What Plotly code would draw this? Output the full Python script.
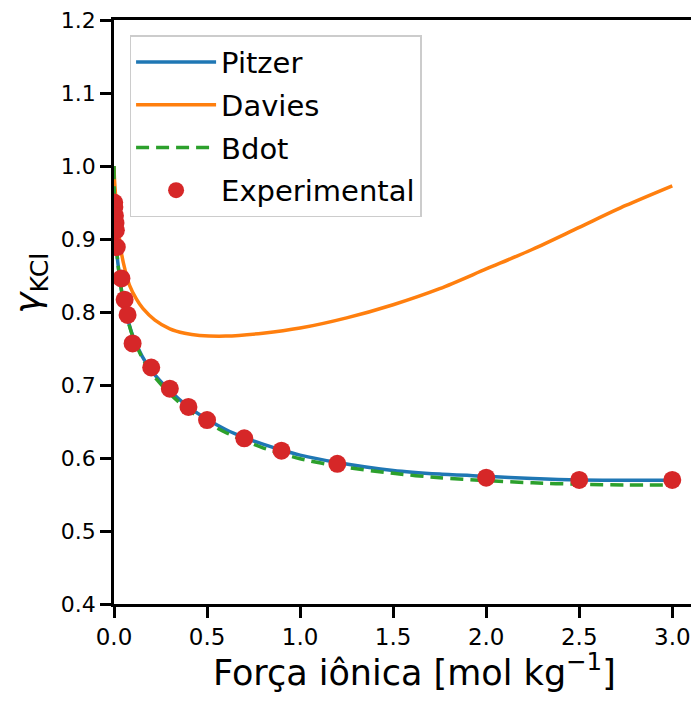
import plotly.graph_objects as go

# ---------------- data ----------------
pitzer_I = [0, 0.001, 0.003, 0.005, 0.01, 0.02, 0.035, 0.05, 0.075, 0.1, 0.15, 0.2,
            0.3, 0.4, 0.5, 0.6, 0.7, 0.8, 0.9, 1.0, 1.2, 1.5, 1.75, 2.0, 2.25, 2.5, 2.75, 3.0]
pitzer_g = [1.0, 0.965, 0.943, 0.927, 0.902, 0.869, 0.838, 0.816, 0.789, 0.768, 0.740, 0.720,
            0.692, 0.670, 0.653, 0.639, 0.628, 0.619, 0.611, 0.604, 0.594, 0.583, 0.578, 0.575,
            0.572, 0.570, 0.5695, 0.5695]

bdot_I = pitzer_I
bdot_g = [1.0, 0.965, 0.943, 0.927, 0.902, 0.869, 0.838, 0.816, 0.788, 0.767, 0.738, 0.717,
          0.688, 0.666, 0.649, 0.635, 0.624, 0.614, 0.606, 0.599, 0.589, 0.579, 0.573, 0.569,
          0.566, 0.564, 0.563, 0.563]

davies_I = [0, 0.002, 0.005, 0.012, 0.025, 0.039, 0.06, 0.083, 0.12, 0.155, 0.22, 0.3, 0.38,
            0.46, 0.6, 0.8, 1.0, 1.25, 1.5, 1.75, 2.0, 2.25, 2.5, 2.75, 3.0]
davies_g = [1.0, 0.985, 0.972, 0.948, 0.910, 0.882, 0.857, 0.837, 0.818, 0.805, 0.789, 0.777,
            0.771, 0.768, 0.767, 0.771, 0.778, 0.792, 0.810, 0.832, 0.859, 0.886, 0.916,
            0.946, 0.973]

exp_I = [0.001, 0.002, 0.005, 0.008, 0.01, 0.015, 0.04, 0.057, 0.073, 0.1, 0.2, 0.3, 0.4,
         0.5, 0.7, 0.9, 1.2, 2.0, 2.5, 3.0]
exp_g = [0.950, 0.944, 0.932, 0.922, 0.912, 0.889, 0.846, 0.817, 0.796, 0.757, 0.724, 0.695,
         0.670, 0.652, 0.627, 0.610, 0.592, 0.573, 0.570, 0.570]

x_ticks = [0.0, 0.5, 1.0, 1.5, 2.0, 2.5, 3.0]
y_ticks = [0.4, 0.5, 0.6, 0.7, 0.8, 0.9, 1.0, 1.1, 1.2]

FONT = "DejaVu Sans"

fig = go.Figure()
fig.add_trace(go.Scatter(x=pitzer_I, y=pitzer_g, mode="lines", name="Pitzer",
                         legendgroup="a",
                         line=dict(color="#1f77b4", width=3.5, shape="spline", smoothing=0.8)))
fig.add_trace(go.Scatter(x=davies_I, y=davies_g, mode="lines", name="Davies",
                         legendgroup="b",
                         line=dict(color="#ff7f0e", width=3.5, shape="spline", smoothing=0.8)))
fig.add_trace(go.Scatter(x=bdot_I, y=bdot_g, mode="lines", name="Bdot",
                         legendgroup="c",
                         line=dict(color="#2ca02c", width=3.5, dash="13px,7px",
                                   shape="spline", smoothing=0.8)))
fig.add_trace(go.Scatter(x=exp_I, y=exp_g, mode="markers", name="Experimental",
                         legendgroup="d",
                         marker=dict(color="#d62728", size=18, line=dict(width=0))))

fig.update_layout(
    width=683, height=686,
    margin=dict(l=106, r=0, t=8, b=90),
    paper_bgcolor="white", plot_bgcolor="white",
    font=dict(family=FONT, color="black"),
    showlegend=True,
    legend=dict(x=0.027, y=0.974, xanchor="left", yanchor="top",
                bgcolor="rgba(255,255,255,0.8)", bordercolor="#cccccc", borderwidth=1.5,
                font=dict(size=29, family=FONT), tracegroupgap=2, itemwidth=80),
    annotations=[
        dict(text="Força iônica [mol kg<sup>−1</sup>]", xref="paper", yref="paper",
             x=0.52, y=-0.113, xanchor="center", yanchor="middle", showarrow=False,
             font=dict(size=35, family=FONT, color="black")),
        dict(text="<i>γ</i><sub>KCl</sub>", xref="paper", yref="paper",
             x=-0.144, y=0.55, xanchor="center", yanchor="middle", showarrow=False,
             textangle=-90, font=dict(size=36, family=FONT, color="black")),
    ],
)
fig.update_xaxes(
    range=[0, 3.1006], tickvals=x_ticks, ticktext=[f"{v:.1f}" for v in x_ticks],
    showgrid=False, zeroline=False, showline=True, linecolor="black", linewidth=2.5,
    mirror=True, ticks="outside", ticklen=11, tickwidth=2.5, tickcolor="black",
    tickfont=dict(size=23, family=FONT), ticklabeloverflow="allow",
)
fig.update_yaxes(
    range=[0.4, 1.2001], tickvals=y_ticks, ticktext=[f"{v:.1f}" for v in y_ticks],
    showgrid=False, zeroline=False, showline=True, linecolor="black", linewidth=2.5,
    ticks="outside", ticklen=11, tickwidth=2.5, tickcolor="black",
    tickfont=dict(size=22, family=FONT), ticklabeloverflow="allow",
)

fig.write_html("out.html")
